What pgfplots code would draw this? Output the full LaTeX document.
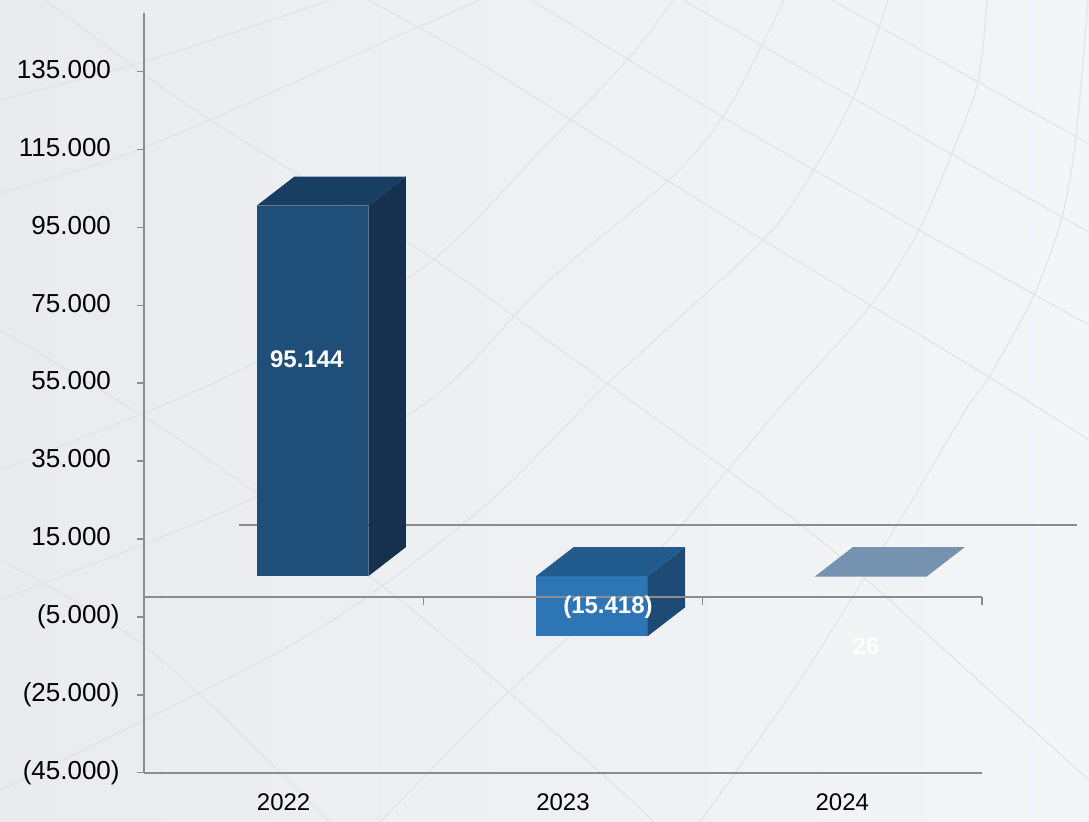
\documentclass[border=0pt]{standalone}
\usepackage{pgfplots}
\pgfplotsset{compat=1.18}
\usepackage{fontspec}
\setmainfont{Liberation Sans}

\definecolor{axgray}{HTML}{8C8C8C}
\definecolor{bgL}{HTML}{EAEBEE}
\definecolor{bgR}{HTML}{F4F5F7}
\definecolor{bgline}{HTML}{E2E4E8}
\definecolor{c22f}{HTML}{1F4E79}
\definecolor{c22t}{HTML}{183E62}
\definecolor{c22s}{HTML}{15314F}
\definecolor{c23f}{HTML}{2E75B6}
\definecolor{c23t}{HTML}{225B8E}
\definecolor{c23s}{HTML}{1D4B76}
\definecolor{c24f}{HTML}{A3B8CF}
\definecolor{c24t}{HTML}{7692B1}
\definecolor{c24s}{HTML}{5F7C9C}

% top and side faces of one 3D bar: #1 category, #2 value, #3 top colour, #4 side colour
\newcommand\barfaces[4]{%
  \pgfmathsetmacro\xl{#1-0.0967}%
  \pgfmathsetmacro\xr{#1+0.3029}%
  \pgfmathsetmacro\xlb{\xl+0.1343}%
  \pgfmathsetmacro\xrb{\xr+0.1343}%
  \edef\yhi{\ifnum#2>0 #2\else 0\fi}%
  \edef\ylo{\ifnum#2<0 #2\else 0\fi}%
  \edef\yhib{\the\numexpr\yhi+7447\relax}%
  \edef\ylob{\the\numexpr\ylo+7447\relax}%
  \addplot[fill=#3, draw=none, yshift=10.6pt] coordinates {(\xl,\yhi) (\xr,\yhi) (\xrb,\yhib) (\xlb,\yhib)};
  \addplot[fill=#4, draw=none, yshift=10.6pt] coordinates {(\xr,\ylo) (\xr,\yhi) (\xrb,\yhib) (\xrb,\ylob)};
}

\begin{document}
\begin{tikzpicture}[font=\fontsize{12}{14}\selectfont]
% background (1 px = 0.5pt, origin at the axis' lower left corner)
\shade[left color=bgL, right color=bgR] (-72pt,-24.65pt) rectangle (472.5pt,386.35pt);
\useasboundingbox (-72pt,-24.65pt) rectangle (472.5pt,386.35pt);
% faint globe grid, written in image pixels
\begin{scope}[x=0.5pt, y=-0.5pt, shift={(-144,-772.7)}, bgline, line width=0.6pt]
  \clip (0,0) rectangle (1089,822);
  % parallels
  \draw plot[smooth] coordinates {(480,-30) (544,8) (723,117) (919,230) (1089,325)};
  \draw plot[smooth] coordinates {(368,0) (450,45) (544,103) (763,240) (989,377) (1089,440)};
  \draw plot[smooth] coordinates {(683,0) (853,98) (1062,217) (1100,238)};
  \draw plot[smooth] coordinates {(832,0) (978,82) (1100,150)};
  \draw plot[smooth] coordinates {(45,0) (195,110) (420,250) (544,338) (645,411) (820,540) (1000,700) (1100,790)};
  \draw plot[smooth] coordinates {(0,330) (180,440) (400,600) (620,790) (660,830)};
  \draw plot[smooth] coordinates {(0,560) (150,650) (330,822)};
  % meridians
  \draw plot[smooth] coordinates {(0,193) (146,147) (382,43) (480,0)};
  \draw plot[smooth] coordinates {(0,100) (150,60) (330,0)};
  \draw plot[smooth] coordinates {(0,470) (220,380) (420,270) (544,147) (629,58) (673,0)};
  \draw plot[smooth] coordinates {(0,600) (250,500) (430,400) (544,285) (669,180) (723,117) (763,43) (784,0)};
  \draw plot[smooth] coordinates {(0,790) (300,640) (480,510) (608,383) (763,240) (815,168) (853,98) (879,28) (888,0)};
  \draw plot[smooth] coordinates {(380,822) (500,700) (650,560) (777,411) (871,305) (919,230) (952,153) (978,82) (987,0)};
  \draw plot[smooth] coordinates {(700,822) (800,680) (900,520) (965,411) (989,377) (1034,295) (1062,217) (1076,137) (1088,0)};
\end{scope}
\begin{axis}[
  at={(0pt,0pt)}, anchor=south west,
  scale only axis, width=419pt, height=379.7pt,
  xmin=-0.5, xmax=2.5, ymin=-45000, ymax=150000,
  clip=false,
  axis x line*=bottom, axis y line*=left,
  axis line style={draw=axgray, line width=0.85pt},
  xtick={0,1,2}, xticklabels={2022,2023,2024},
  x tick style={draw=none},
  ytick={-45000,-25000,-5000,15000,35000,55000,75000,95000,115000,135000},
  yticklabels={{(45.000)},{(25.000)},{(5.000)},{15.000\phantom{)}},{35.000\phantom{)}},{55.000\phantom{)}},{75.000\phantom{)}},{95.000\phantom{)}},{115.000\phantom{)}},{135.000\phantom{)}}},
  y tick style={draw=axgray, line width=0.75pt},
  tick align=outside, major tick length=3.5pt,
  /pgf/number format/assume math mode=true,
  every tick label/.append style={text=black},
  xticklabel style={font=\fontsize{12}{14}\selectfont, inner sep=0pt, yshift=-7pt},
  yticklabel style={font=\fontsize{13}{15}\selectfont, inner sep=0pt, xshift=-8.5pt},
]
% back edge of the floor
\addplot[axgray, line width=1pt, xshift=47.5pt, yshift=36pt] coordinates {(-0.5,0) (2.5,0)};

% 2022
\addplot[ybar, bar width=55.8pt, bar shift=14.4pt, yshift=10.6pt, fill=c22f, draw=none] coordinates {(0,95144)};
\barfaces{0}{95144}{c22t}{c22s}
% 2023
\addplot[ybar, bar width=55.8pt, bar shift=14.4pt, yshift=10.6pt, fill=c23f, draw=none] coordinates {(1,-15418)};
\barfaces{1}{-15418}{c23t}{c23s}
% 2024
\addplot[ybar, bar width=55.8pt, bar shift=14.4pt, yshift=10.6pt, fill=c24f, draw=none] coordinates {(2,26)};
\barfaces{2}{26}{c24t}{c24s}

% front edge of the floor, with its category ticks
\addplot[axgray, line width=1pt] coordinates {(-0.5,0) (2.5,0)};
\addplot[axgray, line width=0.75pt, ycomb] coordinates {(0.5,-2054) (1.5,-2054) (2.5,-2054)};

% data labels
\node[text=white, font=\fontsize{12}{14}\selectfont\bfseries] at (axis cs:0.083,61200) {95.144};
\node[text=white, font=\fontsize{12}{14}\selectfont\bfseries] at (axis cs:1.161,-2517) {(15.418)};
\node[text=white, font=\fontsize{12}{14}\selectfont\bfseries] at (axis cs:2.085,-12530) {26};
\end{axis}
\end{tikzpicture}
\end{document}
